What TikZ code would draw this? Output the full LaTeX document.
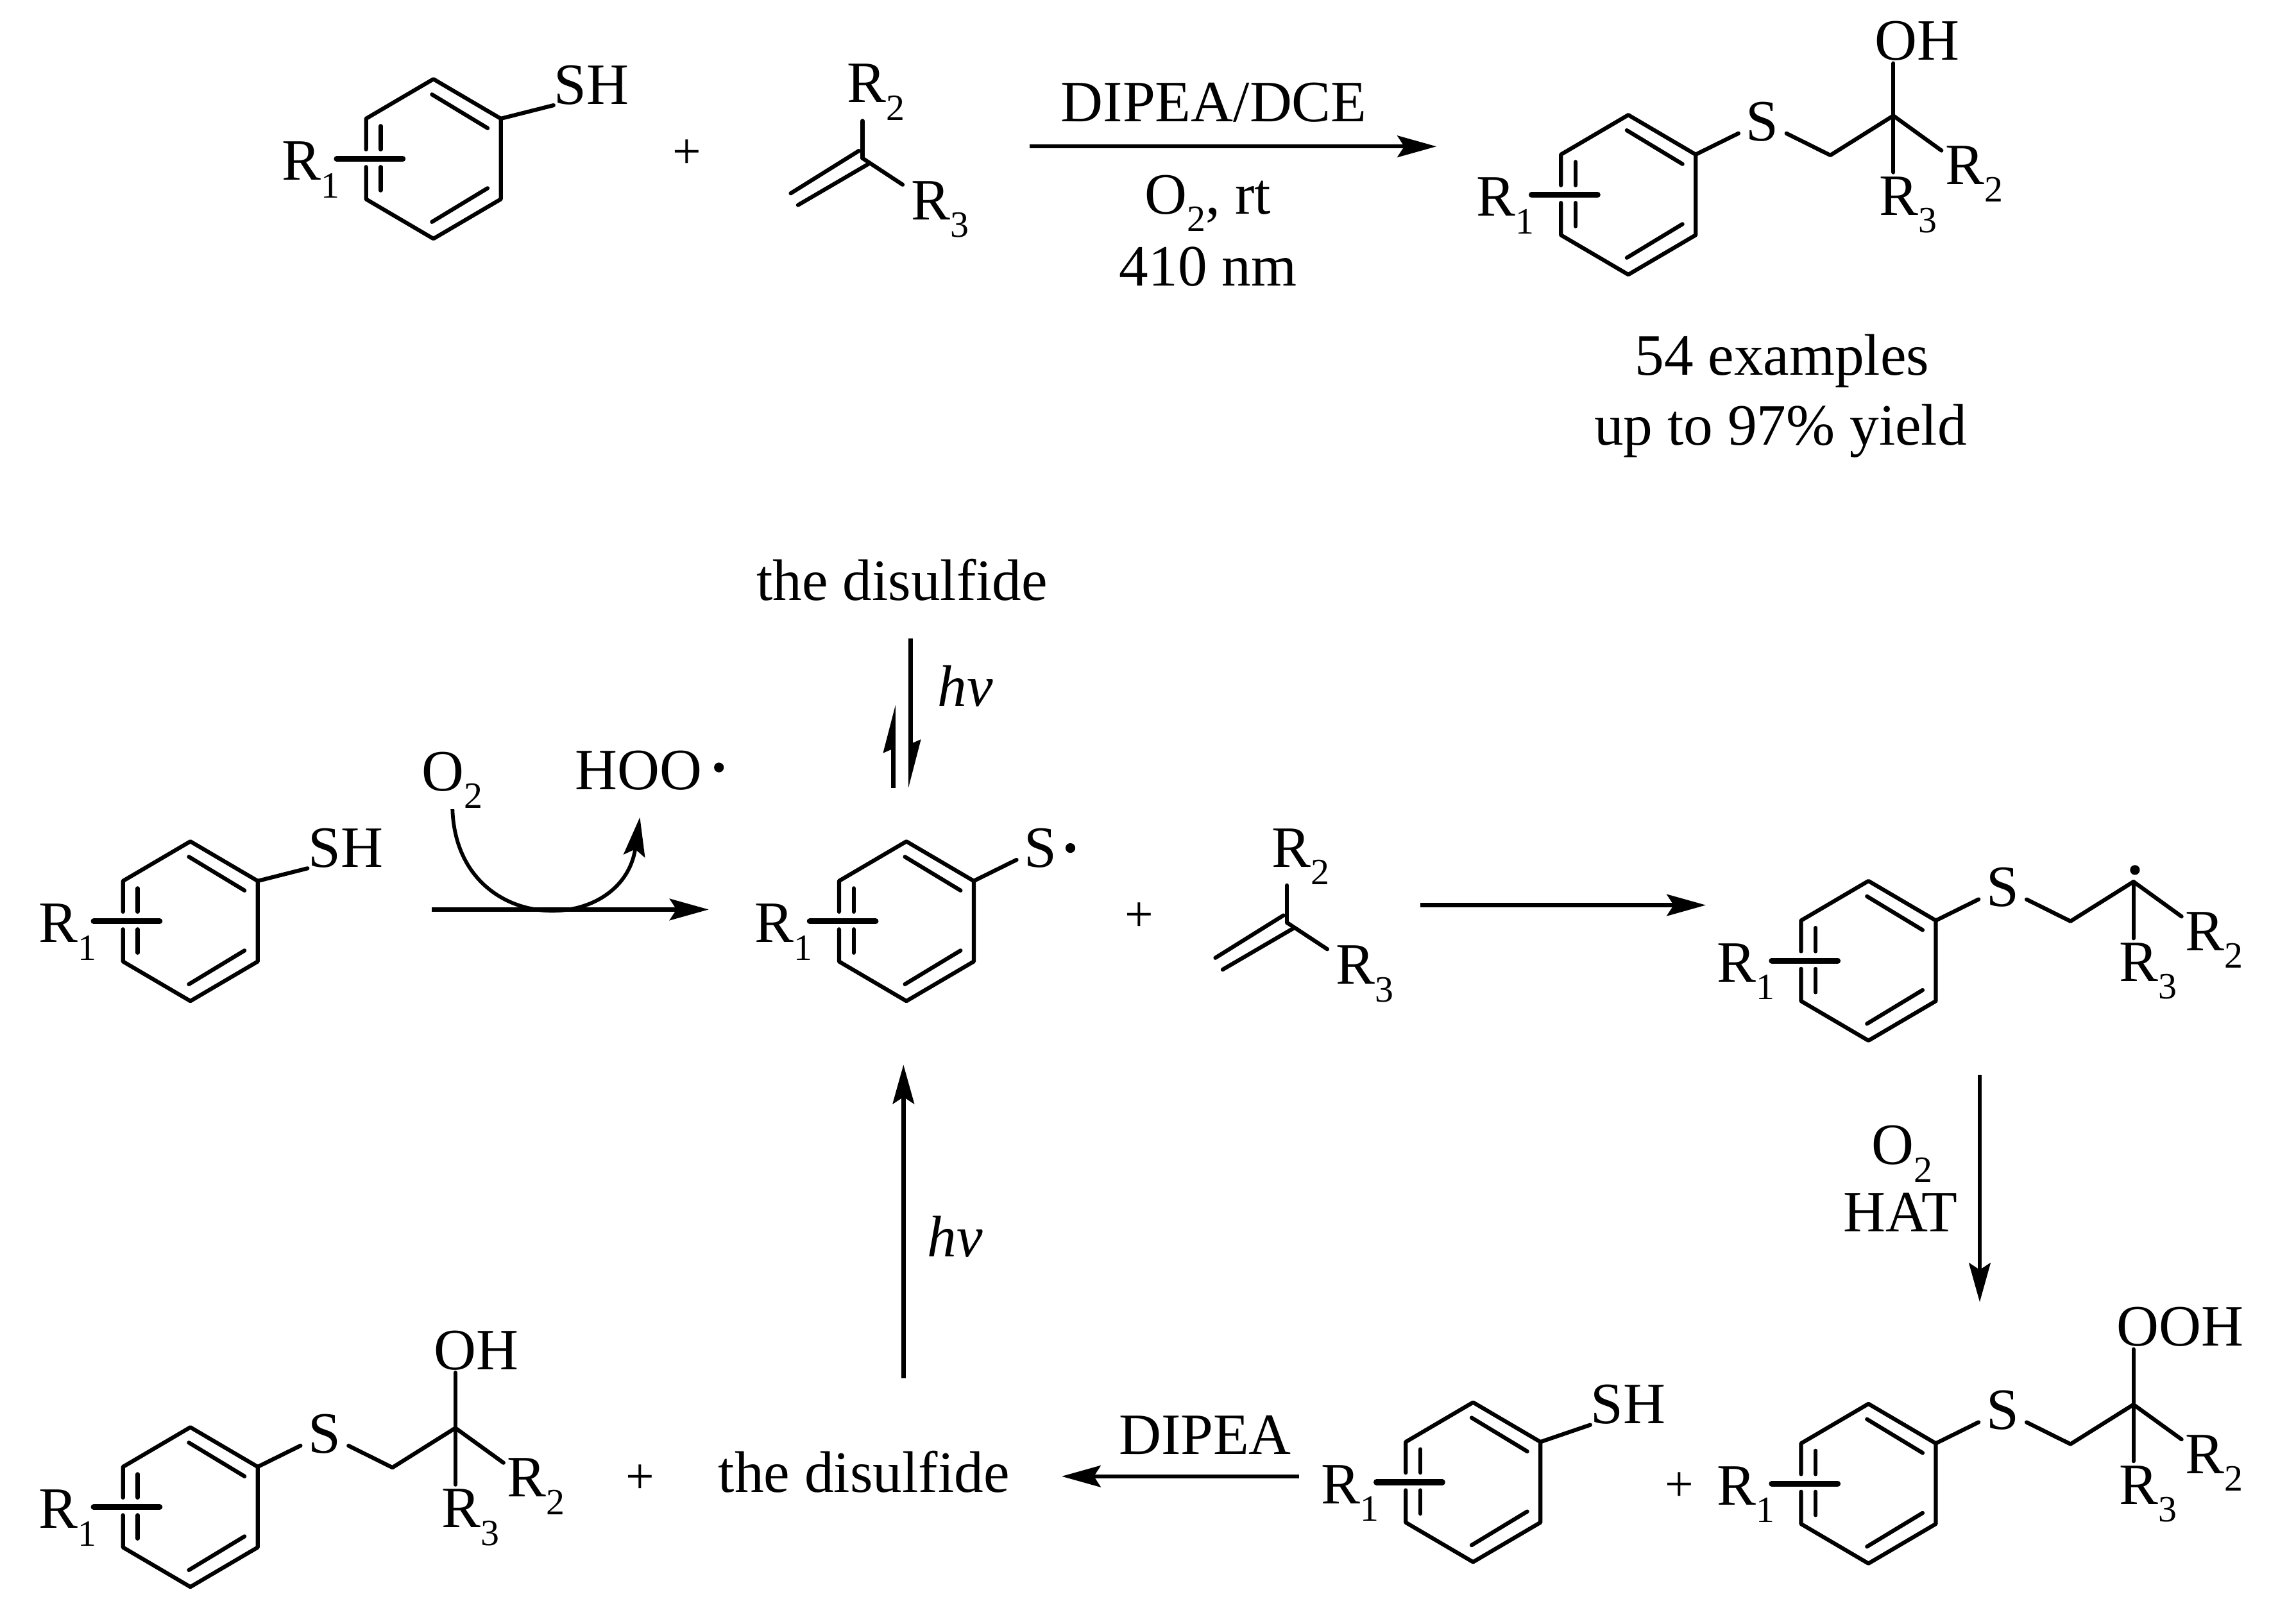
\documentclass[tikz,border=0pt]{standalone}
\usepackage{fontspec}
\setmainfont{Liberation Serif}
\usetikzlibrary{arrows.meta}
\newcommand{\subnum}[1]{\raisebox{-0.3em}{\fontsize{19}{19}\selectfont #1}}
\tikzset{every picture/.style={line width=0.75pt}}
\tikzset{
	bond/.style={line width=2.05pt,line cap=round,line join=round},
	subbar/.style={line width=3pt,line cap=round},
	atom/.style={anchor=base west,inner sep=0pt,font=\fontsize{30}{36}\selectfont},
	note/.style={anchor=base,inner sep=0pt,font=\fontsize{30}{36}\selectfont},
	plus/.style={inner sep=0pt,font=\fontsize{26}{30}\selectfont},
	radical/.style={circle,fill=black,inner sep=0pt,minimum size=5pt},
	rxnarrow/.style={line width=2.1pt,-{Stealth[length=20pt,width=11pt,inset=3.5pt]}},
	halfdown/.style={line width=2.3pt,-{Stealth[harpoon,length=20pt,width=10pt,inset=2pt]}},
	arylring/.pic={
		\begin{scope}[yscale=-1]
		\draw [bond] (-46,-6.5) -- (-46,-27.5) -- (0,-54.5) -- (46,-27.5) -- (46,27.5) -- (0,54.5) -- (-46,27.5) -- (-46,5.5) ;
		\draw [bond] (-1,-44) -- (37,-21) ;
		\draw [bond] (37,20) -- (-1,43) ;
		\draw [bond] (-36,-22.5) -- (-36,-6.5) ;
		\draw [bond] (-36,5.5) -- (-36,21.5) ;
		\draw [subbar] (-66,0) -- (-21,0) ;
		\coordinate (-ipso) at (46,-27.5) ;
		\node [atom] (-rone) at (-104,14.5) {R\subnum{1}};
		\end{scope}
	},
	sulfide/.pic={
		\begin{scope}[yscale=-1]
		\coordinate (-ipso) at (46,-27.5) ;
		\coordinate (-ctwo) at (138,-27) ;
		\coordinate (-cthree) at (181,-54) ;
		\node [atom] (-sulfur) at (80,-37) {S};
		\node [atom] (-rtwo) at (216,-7) {R\subnum{2}};
		\node [atom] (-rthree) at (171,14) {R\subnum{3}};
		\draw [bond,shorten >=4pt] (-ipso) -- (-sulfur) ;
		\draw [bond,shorten <=4pt] (-sulfur) -- (-ctwo) -- (-cthree) ;
		\draw [bond,shorten >=2pt] (-cthree) -- (-rtwo) ;
		\draw [bond,shorten >=2pt] (-cthree) -- (-cthree |- -rthree.north) ;
		\end{scope}
	},
	alkene/.pic={
		\begin{scope}[yscale=-1]
		\coordinate (-vinyl) at (0,0) ;
		\node [atom] (-rtwo) at (-11,-38) {R\subnum{2}};
		\node [atom] (-rthree) at (33,42) {R\subnum{3}};
		\draw [bond] (-vinyl) -- (-vinyl |- -rtwo.south) ;
		\draw [bond,shorten >=5pt] (-vinyl) -- (-rthree) ;
		\draw [bond] (-2.5,-5) -- (-49,24) ;
		\draw [bond] (4,4) -- (-44,32) ;
		\end{scope}
	},
}

\begin{document}
\begin{tikzpicture}[x=0.75pt,y=0.75pt,yscale=-1,xscale=1]
		\useasboundingbox (0,0) rectangle (1568,1097.5);
		
		%Top equation: thiol + alkene
		\pic (thiola) at (296,108.5) {arylring};
		\node [atom] (sha) at (378,71) {SH};
		\draw [bond] (thiola-ipso) -- (sha.south west) ;
		\node [plus] (plusa) at (469,105) {+};
		\pic (alkenea) at (589,108) {alkene};
		
		%Top equation: arrow and conditions
		\coordinate (arrowastart) at (703,100) ;
		\coordinate (arrowaend) at (981,100) ;
		\draw [rxnarrow] (arrowastart) -- (arrowaend) ;
		\node [note] (dipeadce) at (829,83) {DIPEA/DCE};
		\node [note] (otworta) at (825,146) {O\subnum{2}, rt};
		\node [note] (nma) at (825,195) {410 nm};
		
		%Top equation: product
		\pic (proda) at (1112,133) {arylring};
		\pic (proda) at (1112,133) {sulfide};
		\node [atom] (oha) at (1280,41) {OH};
		\draw [bond,shorten >=1pt] (proda-cthree) -- (proda-cthree |- oha.south) ;
		\node [note] (examples) at (1217,256) {54 examples};
		\node [note] (yield) at (1216,304) {up to 97\% yield};
		
		%Middle row: thiol to thiyl radical
		\node [note] (disa) at (616,410) {the disulfide};
		\coordinate (eqdowntop) at (622,436) ;
		\coordinate (eqdownend) at (622,538) ;
		\coordinate (equpstart) at (610,538) ;
		\coordinate (equpend) at (610,481) ;
		\draw [halfdown] (eqdowntop) -- (eqdownend) ;
		\draw [halfdown] (equpstart) -- (equpend) ;
		\node [atom] (hva) at (640,482) {\textit{hv}};
		
		\pic (thiolb) at (130,629) {arylring};
		\node [atom] (shb) at (210,592) {SH};
		\draw [bond] (thiolb-ipso) -- (shb.south west) ;
		\node [note] (otwob) at (309,540) {O\subnum{2}};
		\node [note] (hoo) at (436,539) {HOO};
		\node [radical] (dothoo) at (491,524) {};
		\coordinate (hootip) at (437,558) ;
		\draw [rxnarrow,line width=1.9pt] (otwob.south) .. controls (312,640) and (425,640) .. (hootip) ;
		\coordinate (arrowbstart) at (295,621) ;
		\coordinate (arrowbend) at (484,621) ;
		\draw [rxnarrow] (arrowbstart) -- (arrowbend) ;
		
		%Middle row: thiyl radical + alkene
		\pic (thiyl) at (619,629) {arylring};
		\node [atom] (sthiyl) at (699,592) {S};
		\node [radical] (dotthiyl) at (731,579) {};
		\draw [bond,shorten >=4pt] (thiyl-ipso) -- (sthiyl) ;
		\node [plus] (plusb) at (778,626) {+};
		\pic (alkeneb) at (879,630) {alkene};
		\coordinate (arrowcstart) at (970,618) ;
		\coordinate (arrowcend) at (1165,618) ;
		\draw [rxnarrow] (arrowcstart) -- (arrowcend) ;
		
		%Middle row: carbon radical
		\pic (radc) at (1276,656) {arylring};
		\pic (radc) at (1276,656) {sulfide};
		\node [radical] (dotradc) at (1458,594) {};
		
		%Right side: down arrow
		\coordinate (arrowdstart) at (1352,734) ;
		\coordinate (arrowdend) at (1352,889) ;
		\draw [rxnarrow] (arrowdstart) -- (arrowdend) ;
		\node [note] (otwod) at (1299,795) {O\subnum{2}};
		\node [note] (hat) at (1298,841) {HAT};
		
		%Bottom row: hydroperoxide and thiol
		\pic (perox) at (1276,1013) {arylring};
		\pic (perox) at (1276,1013) {sulfide};
		\node [atom] (ooh) at (1445,919) {OOH};
		\draw [bond,shorten >=1pt] (perox-cthree) -- (perox-cthree |- ooh.south) ;
		\node [plus] (plusc) at (1147,1015) {+};
		\pic (thiolc) at (1006,1012) {arylring};
		\node [atom] (shc) at (1086,972) {SH};
		\draw [bond] (thiolc-ipso) -- (shc.south west) ;
		
		%Bottom row: arrow to disulfide
		\coordinate (arroweend) at (725,1008) ;
		\coordinate (arrowestart) at (887,1008) ;
		\draw [rxnarrow] (arrowestart) -- (arroweend) ;
		\node [note] (dipea) at (823,993) {DIPEA};
		\node [note] (disb) at (590,1019) {the disulfide};
		\node [plus] (plusd) at (437,1010) {+};
		
		%Bottom row: alcohol
		\pic (alco) at (130,1029) {arylring};
		\pic (alco) at (130,1029) {sulfide};
		\node [atom] (ohb) at (296,935) {OH};
		\draw [bond,shorten >=1pt] (alco-cthree) -- (alco-cthree |- ohb.south) ;
		
		%Arrow back to thiyl radical
		\coordinate (arrowfstart) at (617,941) ;
		\coordinate (arrowfend) at (617,727) ;
		\draw [rxnarrow] (arrowfstart) -- (arrowfend) ;
		\node [atom] (hvb) at (633,858) {\textit{hv}};
		
\end{tikzpicture}
\end{document}
